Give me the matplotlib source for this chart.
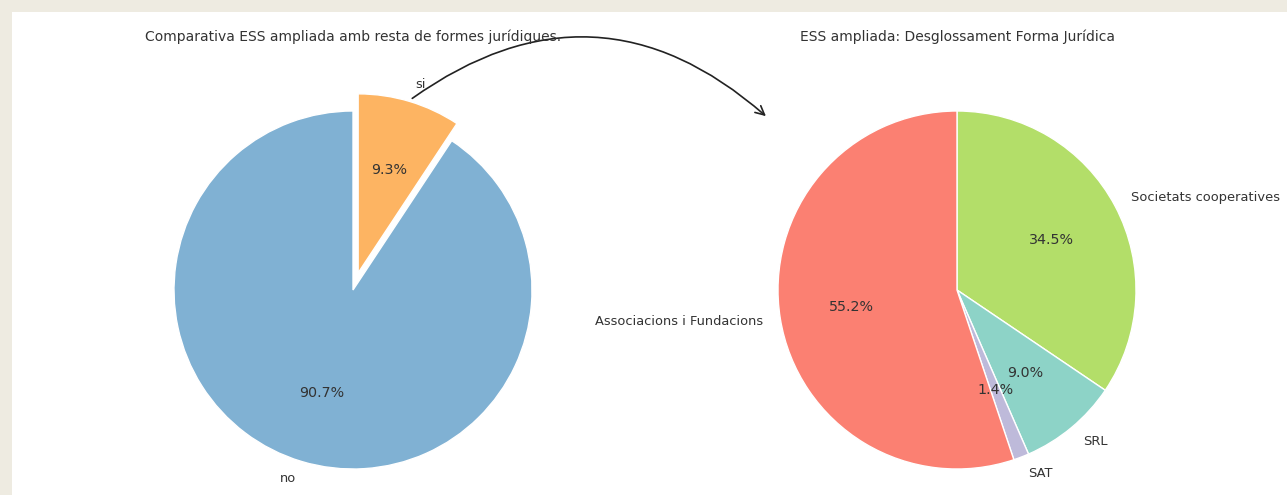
import matplotlib
matplotlib.use('Agg')
import matplotlib.pyplot as plt
from matplotlib.patches import Rectangle

# data
ess_labels = ['no', 'si']
ess_values = [90.7, 9.3]
forma_labels = ['Societats cooperatives', 'SRL', 'SAT', 'Associacions i Fundacions']
forma_values = [34.5, 9.0, 1.4, 55.2]

titles = ['Comparativa ESS ampliada amb resta de formes jurídiques.',
          'ESS ampliada: Desglossament Forma Jurídica']

W, H = 1287, 495
R = 179  # pie radius in pixels
LIM = 1.25

fig = plt.figure(figsize=(W / 100, H / 100), dpi=100, facecolor='#eeebe1')
fig.add_artist(Rectangle((12 / W, 0), 1 - 12 / W, 1 - 12 / H,
                         transform=fig.transFigure, facecolor='white',
                         edgecolor='none', zorder=0))


def make_axes(cx, cy):
    half = LIM * R
    return fig.add_axes([(cx - half) / W, (cy - half) / H, 2 * half / W, 2 * half / H])


def pct_fmt(values):
    # show the value (they don't sum exactly to 100)
    total = sum(values)
    return lambda p: '%1.1f%%' % (p * total / 100)


ax1 = make_axes(353, H - 290)
ax2 = make_axes(957, H - 290)

txt = dict(color='#333333', fontsize=9.4)

_, _, auto1 = ax1.pie(ess_values, labels=ess_labels, colors=['#80b1d3', '#fdb462'],
                      explode=[0, 0.1], startangle=90, autopct=pct_fmt(ess_values),
                      wedgeprops=dict(edgecolor='white', linewidth=1),
                      textprops=txt)

_, _, auto2 = ax2.pie(forma_values, labels=forma_labels,
                      colors=['#b3de69', '#8dd3c7', '#bebada', '#fb8072'],
                      startangle=90, counterclock=False, autopct=pct_fmt(forma_values),
                      wedgeprops=dict(edgecolor='white', linewidth=1),
                      textprops=txt)

for t in auto1 + auto2:
    t.set_fontsize(10.3)

for ax in (ax1, ax2):
    ax.set_xlim(-LIM, LIM)
    ax.set_ylim(-LIM, LIM)
    ax.set_aspect('equal')
    ax.axis('off')

fig.text(353 / W, 1 - 37 / H, titles[0], ha='center', va='center', fontsize=10, color='#333333')
fig.text(957 / W, 1 - 37 / H, titles[1], ha='center', va='center', fontsize=10, color='#333333')

# curved arrow from the "si" wedge to the breakdown pie
ax1.annotate('', xy=(768, H - 118), xytext=(410, H - 100),
             xycoords='figure pixels', textcoords='figure pixels',
             arrowprops=dict(arrowstyle='->', connectionstyle='arc3,rad=-0.4',
                             color='#222222', lw=1.2, mutation_scale=16))

plt.savefig('out.png', dpi=100, facecolor=fig.get_facecolor())
plt.close()
